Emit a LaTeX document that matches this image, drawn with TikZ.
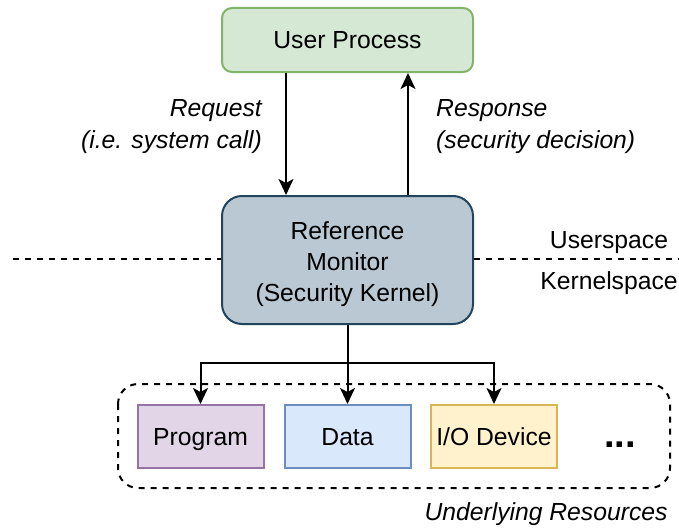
\documentclass[tikz,border=0pt]{standalone}
\usepackage{fontspec}
\setmainfont{Liberation Sans}
\usetikzlibrary{arrows.meta,positioning}
\definecolor{procgreen}{HTML}{D5E8D4}
\definecolor{procgreenline}{HTML}{82B366}
\definecolor{monfill}{HTML}{BAC8D3}
\definecolor{monline}{HTML}{23445D}
\definecolor{progfill}{HTML}{E1D5E7}
\definecolor{progline}{HTML}{9673A6}
\definecolor{datafill}{HTML}{DAE8FC}
\definecolor{dataline}{HTML}{6C8EBF}
\definecolor{iofill}{HTML}{FFF2CC}
\definecolor{ioline}{HTML}{D6B656}

\begin{document}
\begin{tikzpicture}[
    x=1pt, y=-1pt,
    every node/.style={font=\fontsize{24.7}{31}\selectfont, inner sep=0pt},
    line/.style={text height=22.4pt, text depth=5.2pt},
    box/.style={rectangle, line width=2pt, minimum width=251pt, align=center},
    res/.style={rectangle, line width=2pt, minimum width=126pt, minimum height=63pt, line},
    lbl/.style={font=\fontsize{24.7}{32}\selectfont\itshape},
    arrow/.style={-{Stealth[length=16pt,width=15pt,inset=4pt]}, line width=2pt},
    sep/.style={line width=1.5pt, dash pattern=on 6pt off 6pt}
]
    \useasboundingbox (0,0) rectangle (679,527);

    \node[box, draw=procgreenline, fill=procgreen, rounded corners=10pt, minimum height=64pt, line] (user) at (347.5,40) {User Process};
    \node[box, draw=monline, fill=monfill, rounded corners=20pt, minimum height=128pt] (monitor) at (347.5,260) {};
    \node[align=center] (monitor text) at (347.5,264) {Reference\\Monitor\\(Security Kernel)};

    \draw[arrow] ([xshift=-61.5pt]user.south) -- ([xshift=-61.5pt]monitor.north);
    \draw[arrow] ([xshift=60.5pt]monitor.north) -- ([xshift=60.5pt]user.south);
    \node[lbl, align=right, anchor=east] (request) at (262,127) {Request\\(i.e. system call)};
    \node[lbl, align=left, anchor=west] (response) at (436,127) {Response\\(security decision)};

    \coordinate (sepleft) at (13,259);
    \coordinate (sepright) at (679,259);
    \draw[sep] (sepleft) -- (sepleft -| monitor.west);
    \draw[sep] (sepright -| monitor.east) -- (sepright);
    \node[line] (user space) at (609,240) {Userspace};
    \node[line] (kernel space) at (609,281) {Kernelspace};

    \draw[sep, line width=2pt, rounded corners=20pt] (118,384) rectangle (670,488);
    \node[res, draw=progline, fill=progfill] (program) at (200.5,436.5) {Program};
    \node[res, draw=dataline, fill=datafill] (data) at (347.5,436.5) {Data};
    \node[res, draw=ioline, fill=iofill] (io) at (494,436.5) {I/O Device};
    \node[font=\fontsize{38}{40}\selectfont\bfseries, anchor=base] (more) at (620,447) {...};
    \node[lbl, line] (resources) at (546,512) {Underlying Resources};

    \coordinate (split) at (347.5,363);
    \draw[line width=2pt] (monitor) -- (split);
    \draw[arrow] (split) -- (data);
    \draw[arrow] (split) -| (program);
    \draw[arrow] (split) -| (io);
\end{tikzpicture}
\end{document}
